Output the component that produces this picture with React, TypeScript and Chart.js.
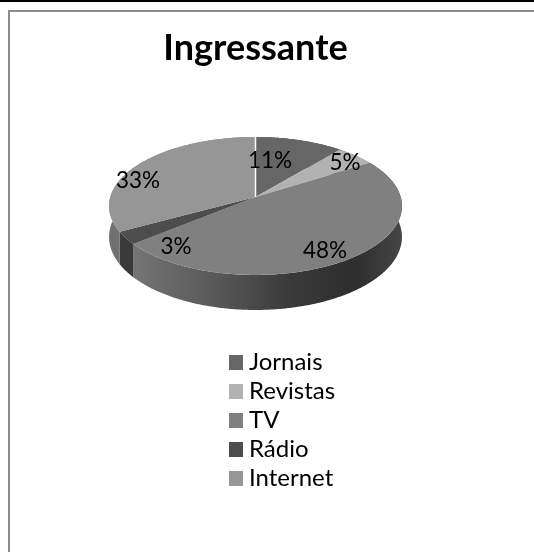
import React, { useEffect, useRef } from "react";
import { Chart, registerables } from "chart.js";

Chart.register(...registerables);

const categories = ["Jornais", "Revistas", "TV", "Rádio", "Internet"];
const shares = [11, 5, 48, 3, 33];
const topColors = ["#666666", "#b2b2b2", "#808080", "#4d4d4d", "#969696"];
const wallColors = ["#4a4a4a", "#808080", "", "#3a3a3a", "#707070"];
const labelCentres = [
  [270, 161],
  [345, 163],
  [325, 251],
  [176, 247],
  [138, 181],
];

const FONT = "Lato, Carlito, 'Noto Sans', sans-serif";
const CX = 255.5;
const CY = 197;
const A = 145.2;
const B = 67.8;
const P = 0.13;
const DEPTH = 30.5;

function project(angle: number, r = 1, drop = 0) {
  const u = Math.cos(angle) * r;
  const v = Math.sin(angle) * r;
  const w = 1 - P * v;
  return { x: CX + (u * A) / w, y: CY + (v * B) / w + (drop * DEPTH) / w };
}

function steps(start: number, end: number) {
  const n = Math.max(2, Math.ceil((end - start) / 0.01));
  return Array.from({ length: n + 1 }, (_, i) => start + ((end - start) * i) / n);
}

const pie3d = {
  id: "pie3d",
  beforeDraw(chart: any) {
    const { ctx, width, height } = chart;
    ctx.save();
    ctx.fillStyle = "#ffffff";
    ctx.fillRect(0, 0, width, height);
    ctx.fillStyle = "#000000";
    ctx.fillRect(0, 0, width, 2);
    ctx.fillStyle = "#8c8c8c";
    ctx.fillRect(8, 10, width - 8, 2);
    ctx.fillRect(8, 10, 2, height - 10);
    ctx.restore();
  },
  afterLayout(chart: any) {
    const lg = chart.legend;
    const w = lg.right - lg.left;
    const h = lg.bottom - lg.top;
    lg.left = 229;
    lg.right = lg.left + w;
    lg.top = 345.5;
    lg.bottom = lg.top + h;
    lg.adjustHitBoxes();
    const tb = chart.titleBlock;
    tb.left = 0;
    tb.right = 511;
  },
  beforeDatasetsDraw(chart: any) {
    const { ctx } = chart;
    const arcs = chart.getDatasetMeta(0).data;
    ctx.save();
    const tvWall = ctx.createLinearGradient(136, 0, 402, 0);
    tvWall.addColorStop(0, "#747474");
    tvWall.addColorStop(0.33, "#555555");
    tvWall.addColorStop(0.58, "#3a3a3a");
    tvWall.addColorStop(0.83, "#2e2e2e");
    tvWall.addColorStop(1, "#464646");
    // side walls first, the tops cover whatever lies behind them
    arcs.forEach((arc: any, i: number) => {
      const pts = steps(arc.startAngle, arc.endAngle);
      ctx.beginPath();
      pts.forEach((a, k) => {
        const p = project(a);
        k ? ctx.lineTo(p.x, p.y) : ctx.moveTo(p.x, p.y);
      });
      [...pts].reverse().forEach((a) => {
        const p = project(a, 1, 1);
        ctx.lineTo(p.x, p.y);
      });
      ctx.closePath();
      ctx.fillStyle = wallColors[i] || tvWall;
      ctx.fill();
    });
    // tops
    arcs.forEach((arc: any) => {
      const apex = project(0, 0);
      ctx.beginPath();
      ctx.moveTo(apex.x, apex.y);
      steps(arc.startAngle, arc.endAngle).forEach((a) => {
        const p = project(a);
        ctx.lineTo(p.x, p.y);
      });
      ctx.closePath();
      ctx.fillStyle = arc.options.backgroundColor;
      ctx.fill();
    });
    // light seam where the first slice starts
    const first = arcs[0];
    const rim = project(first.startAngle);
    const apex = project(0, 0);
    ctx.strokeStyle = "#ffffff";
    ctx.lineWidth = 1.5;
    ctx.beginPath();
    ctx.moveTo(apex.x, apex.y);
    ctx.lineTo(rim.x, rim.y);
    ctx.stroke();
    // percentages
    const total = shares.reduce((s, v) => s + v, 0);
    ctx.fillStyle = "#000000";
    ctx.font = `22.5px ${FONT}`;
    ctx.textAlign = "center";
    ctx.textBaseline = "middle";
    shares.forEach((v, i) => {
      ctx.fillText(`${Math.round((v / total) * 100)}%`, labelCentres[i][0], labelCentres[i][1]);
    });
    ctx.restore();
    return false;
  },
};

function swatch(color: string) {
  const c = document.createElement("canvas");
  c.width = 15;
  c.height = 15;
  const g = c.getContext("2d")!;
  g.fillStyle = color;
  g.fillRect(0, 0, 15, 15);
  return c;
}

export default function App() {
  const ref = useRef<HTMLCanvasElement>(null);
  useEffect(() => {
    const chart = new Chart(ref.current!, {
      type: "pie",
      data: {
        labels: categories,
        datasets: [{ data: shares, backgroundColor: topColors, borderWidth: 0 }],
      },
      options: {
        responsive: false,
        animation: false,
        plugins: {
          tooltip: { enabled: false },
          title: {
            display: true,
            text: "Ingressante",
            color: "#000000",
            font: { family: FONT, size: 36, weight: "bold" },
            padding: { top: 27, bottom: 40 },
          },
          legend: {
            position: "right",
            align: "start",
            labels: {
              color: "#000000",
              font: { family: FONT, size: 24 },
              usePointStyle: true,
              boxWidth: 3,
              padding: 5,
              generateLabels: () =>
                categories.map((text, i) => ({
                  text,
                  fillStyle: topColors[i],
                  strokeStyle: topColors[i],
                  lineWidth: 0,
                  pointStyle: swatch(topColors[i]),
                  index: i,
                  hidden: false,
                })),
            },
          },
        },
      } as any,
      plugins: [pie3d as any],
    });
    return () => chart.destroy();
  }, []);
  return (
    <canvas
      ref={ref}
      width={534}
      height={552}
      style={{ position: "absolute", left: 0, top: 0, display: "block" }}
    />
  );
}
